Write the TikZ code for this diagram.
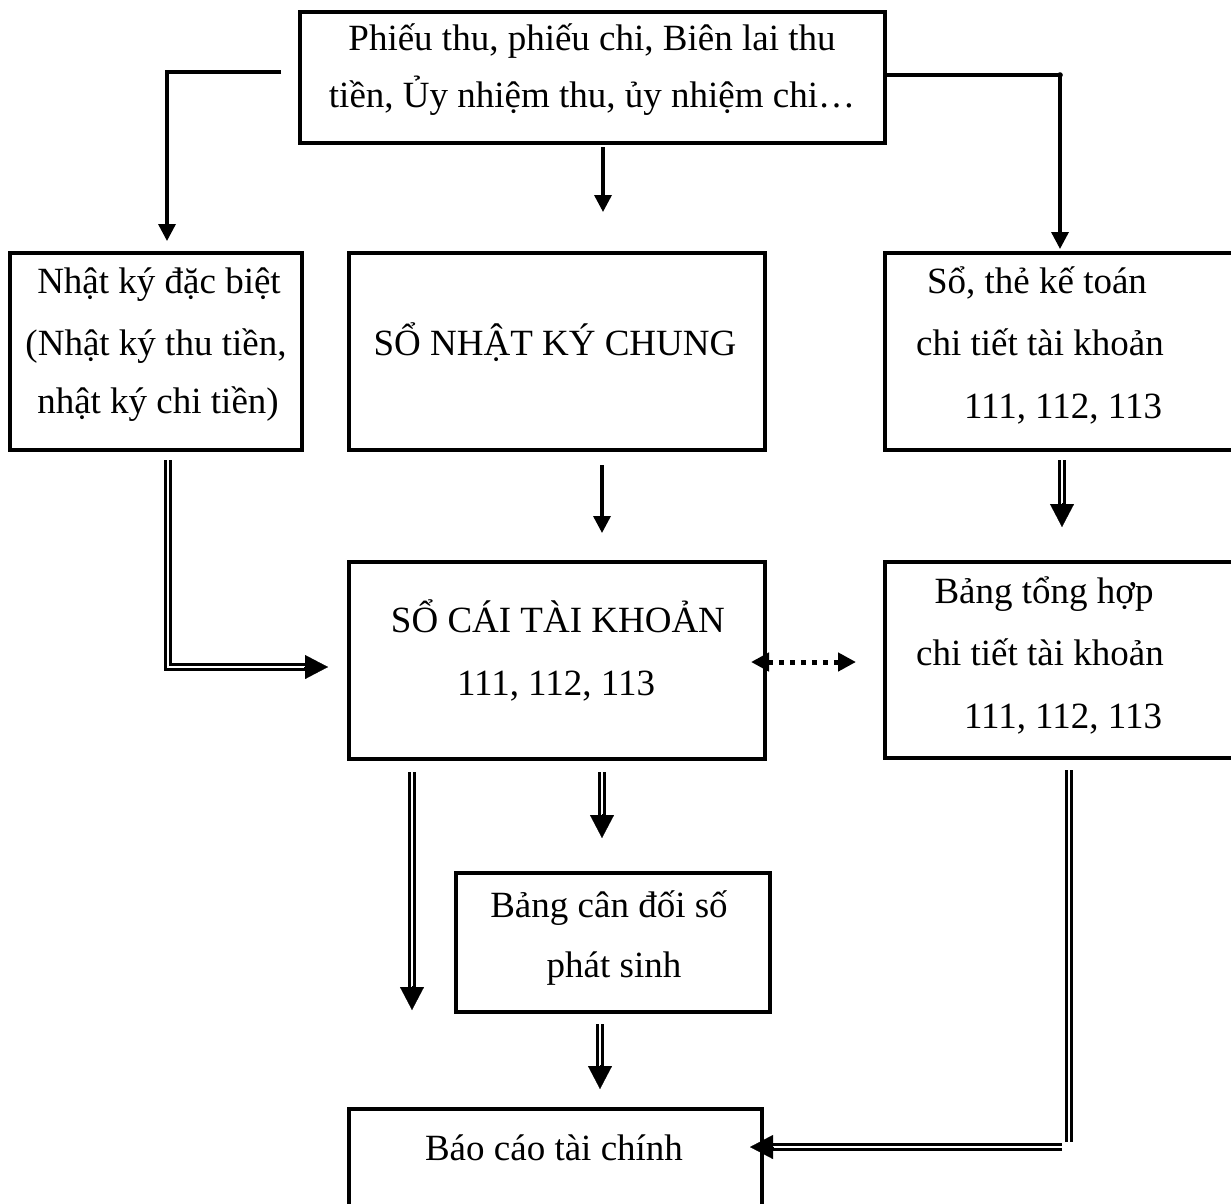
\documentclass[tikz,border=0pt]{standalone}
\usepackage{fontspec}
\setmainfont{Liberation Serif}
\usetikzlibrary{arrows.meta}
\begin{document}
\begin{tikzpicture}[x=1pt,y=-1pt,
  box/.style={draw, line width=4pt, inner sep=0pt, rectangle},
  txt/.style={anchor=base, inner sep=0pt, font=\fontsize{37}{44}\selectfont},
  arr/.style={line width=3.4pt, -{Triangle[length=17pt,width=17pt]}},
  dbl/.style={double, line width=2.3pt, double distance=2.5pt},
  dbltip/.style={line width=0.2pt, -{Triangle[length=23pt,width=24pt]}},
  dotarr/.style={line width=5pt, dash pattern=on 5pt off 6pt,
    {Triangle[length=18pt,width=18pt]}-{Triangle[length=18pt,width=18pt]}}]

% canvas
\path[use as bounding box, fill=white] (0,0) rectangle (1231,1203);
\clip (0,0) rectangle (1231,1203);

% boxes
\node[box, minimum width=585pt, minimum height=131pt] (top)  at (592.5,77.5) {};
\node[box, minimum width=292pt, minimum height=197pt] (nkdb) at (156,351.5) {};
\node[box, minimum width=416pt, minimum height=197pt] (nkc)  at (557,351.5) {};
\node[box, minimum width=360pt, minimum height=197pt] (sct)  at (1065,351.5) {};
\node[box, minimum width=416pt, minimum height=197pt] (sc)   at (557,660.5) {};
\node[box, minimum width=360pt, minimum height=196pt] (bth)  at (1065,660) {};
\node[box, minimum width=314pt, minimum height=139pt] (bcd)  at (613,942.5) {};
\node[box, minimum width=413pt, minimum height=111pt] (bctc) at (555.5,1164.5) {};

% texts
\node[txt] (t1) at (592,50) {Phiếu thu, phiếu chi, Biên lai thu};
\node[txt] (t2) at (592,107) {tiền, Ủy nhiệm thu, ủy nhiệm chi…};

\node[txt] (t3) at (159,293) {Nhật ký đặc biệt};
\node[txt] (t4) at (156,355) {(Nhật ký thu tiền,};
\node[txt] (t5) at (158,413) {nhật ký chi tiền)};

\node[txt] (t6) at (555,355) {SỔ NHẬT KÝ CHUNG};

\node[txt] (t7) at (1037,293) {Sổ, thẻ kế toán};
\node[txt] (t8) at (1040,355) {chi tiết tài khoản};
\node[txt] (t9) at (1063,418) {111, 112, 113};

\node[txt] (t10) at (558,632) {SỔ CÁI TÀI KHOẢN};
\node[txt] (t11) at (556,695) {111, 112, 113};

\node[txt] (t12) at (1044,603) {Bảng tổng hợp};
\node[txt] (t13) at (1040,665) {chi tiết tài khoản};
\node[txt] (t14) at (1063,728) {111, 112, 113};

\node[txt] (t15) at (609,917) {Bảng cân đối số};
\node[txt] (t16) at (614,977) {phát sinh};

\node[txt] (t17) at (554,1160) {Báo cáo tài chính};

% single connectors from the source documents
\coordinate (lstart) at (281,72);
\draw[arr] (lstart) -| ([xshift=11pt,yshift=10pt]nkdb.north);
\draw[arr] ([xshift=10.5pt,yshift=-2pt]top.south) -- ([xshift=46pt,yshift=39pt]nkc.north);
\draw[arr] ([yshift=2.5pt]top.east) -| ([xshift=-5pt,yshift=2pt]sct.north);
\fill ([xshift=-5pt,yshift=2.5pt]top.east -| sct.north) circle (2.8pt);
\draw[arr] ([xshift=45pt,yshift=-13pt]nkc.south) -- ([xshift=45pt,yshift=27pt]sc.north);

% double connectors
\draw[dbl] ([xshift=12pt,yshift=-8pt]nkdb.south) |- ([xshift=-41pt,yshift=-6.5pt]sc.west);
\draw[dbltip] ([xshift=-43pt,yshift=-6.5pt]sc.west) -- ([xshift=-19pt,yshift=-6.5pt]sc.west);

\draw[dbl] ([xshift=-3pt,yshift=-8pt]sct.south) -- ([xshift=-3pt,yshift=55pt]bth.north);
\draw[dbltip] ([xshift=-3pt,yshift=57pt]bth.north) -- ([xshift=-3pt,yshift=33pt]bth.north);

\draw[dbl] ([xshift=-145pt,yshift=-11pt]sc.south) -- ([xshift=-145pt,yshift=-227pt]sc.south);
\draw[dbltip] ([xshift=-145pt,yshift=-225pt]sc.south) -- ([xshift=-145pt,yshift=-249pt]sc.south);

\draw[dbl] ([xshift=45pt,yshift=-11pt]sc.south) -- ([xshift=-11pt,yshift=55pt]bcd.north);
\draw[dbltip] ([xshift=-11pt,yshift=57pt]bcd.north) -- ([xshift=-11pt,yshift=33pt]bcd.north);

\draw[dbl] ([xshift=-13pt,yshift=-10pt]bcd.south) -- ([xshift=44.5pt,yshift=40pt]bctc.north);
\draw[dbltip] ([xshift=44.5pt,yshift=42pt]bctc.north) -- ([xshift=44.5pt,yshift=18pt]bctc.north);

\draw[dbl] ([xshift=4pt,yshift=-10pt]bth.south) -- ([xshift=4pt,yshift=-382pt]bth.south);
\draw[dbl] ([xshift=298pt,yshift=17.5pt]bctc.east) -- ([xshift=8pt,yshift=17.5pt]bctc.east);
\draw[dbltip] ([xshift=10pt,yshift=17.5pt]bctc.east) -- ([xshift=-14pt,yshift=17.5pt]bctc.east);

% dotted two-way link
\draw[dotarr] ([xshift=-16pt,yshift=-1.5pt]sc.east) -- ([xshift=-27pt,yshift=-2pt]bth.west);
\end{tikzpicture}
\end{document}
